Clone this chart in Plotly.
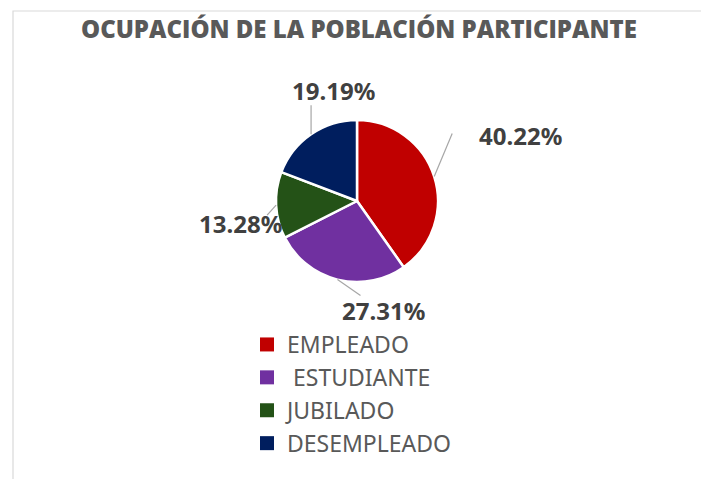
import math
import plotly.graph_objects as go

# ---- data ----
categories = ["EMPLEADO", "\u00a0ESTUDIANTE", "JUBILADO", "DESEMPLEADO"]
values = [40.22, 27.31, 13.28, 19.19]
colors = ["#C00000", "#7030A0", "#245217", "#001E5E"]

W, H = 709, 479
OX, OY = 8, 8            # page body offset
CX, CY, R = 357, 201, 81  # pie centre / radius in pixels (screen)

def px_to_paper(x, y):
    return (x - OX) / W, 1 - (y - OY) / H

# label layout: (leader end offset), (label offset) relative to slice edge point, pixels
label_layout = [
    ((18, -43), (86, -41)),
    ((23, 16), (46, 31)),
    ((-9, 10), (-36, 18)),
    ((0, -29), (22, -44)),
]

fig = go.Figure()
dx0, dy1 = px_to_paper(CX - R, CY - R)
dx1, dy0 = px_to_paper(CX + R, CY + R)
fig.add_trace(go.Pie(
    labels=categories,
    values=values,
    sort=False,
    direction="clockwise",
    rotation=0,
    marker=dict(colors=colors, line=dict(color="white", width=2.5)),
    textinfo="none",
    hoverinfo="label+percent",
    showlegend=False,
    domain=dict(x=[dx0, dx1], y=[dy0, dy1]),
))

# legend entries (square swatches)
for c, col in zip(categories, colors):
    fig.add_trace(go.Scatter(x=[None], y=[None], mode="markers", name=c,
                             marker=dict(symbol="square", size=14, color=col),
                             showlegend=True, hoverinfo="skip"))

total = sum(values)
cum = 0.0
shapes = []
annotations = []
for v, (lend, loff) in zip(values, label_layout):
    mid = (cum + v / 2) / total * 2 * math.pi
    cum += v
    ex = CX + R * math.sin(mid)
    ey = CY - R * math.cos(mid)
    x0, y0 = px_to_paper(ex, ey)
    x1, y1 = px_to_paper(ex + lend[0], ey + lend[1])
    shapes.append(dict(type="line", xref="paper", yref="paper", x0=x0, y0=y0, x1=x1, y1=y1,
                       line=dict(color="#A6A6A6", width=1.2)))
    lx, ly = px_to_paper(ex + loff[0], ey + loff[1])
    annotations.append(dict(x=lx, y=ly, xref="paper", yref="paper", showarrow=False,
                            text=f"{v:.2f}%", xanchor="center", yanchor="middle",
                            font=dict(family="Noto Sans", size=24, color="#404040", weight="bold")))

# chart border
bx0, by1 = px_to_paper(13, 11)
bx1, _ = px_to_paper(703, 11)
shapes.append(dict(type="rect", xref="paper", yref="paper",
                   x0=bx0, x1=bx1, y0=-0.05, y1=by1,
                   line=dict(color="#D9D9D9", width=1.2), fillcolor="rgba(0,0,0,0)", layer="below"))

tx, ty = px_to_paper(359, 28)
annotations.append(dict(x=tx, y=ty, xref="paper", yref="paper", showarrow=False,
                        text="OCUPACIÓN DE LA POBLACIÓN PARTICIPANTE", xanchor="center", yanchor="middle",
                        font=dict(family="Open Sans", size=24, color="#595959", weight=800)))

lgx, lgy = px_to_paper(247, 323)
fig.update_layout(
    width=W, height=H,
    margin=dict(l=0, r=0, t=0, b=0),
    paper_bgcolor="white",
    plot_bgcolor="white",
    xaxis=dict(visible=False),
    yaxis=dict(visible=False),
    shapes=shapes,
    annotations=annotations,
    showlegend=True,
    legend=dict(x=lgx, y=lgy, xanchor="left", yanchor="top",
                orientation="v", traceorder="normal",
                font=dict(family="Noto Sans", size=23, color="#595959"),
                bgcolor="rgba(0,0,0,0)"),
)

fig.write_html("out.html")
